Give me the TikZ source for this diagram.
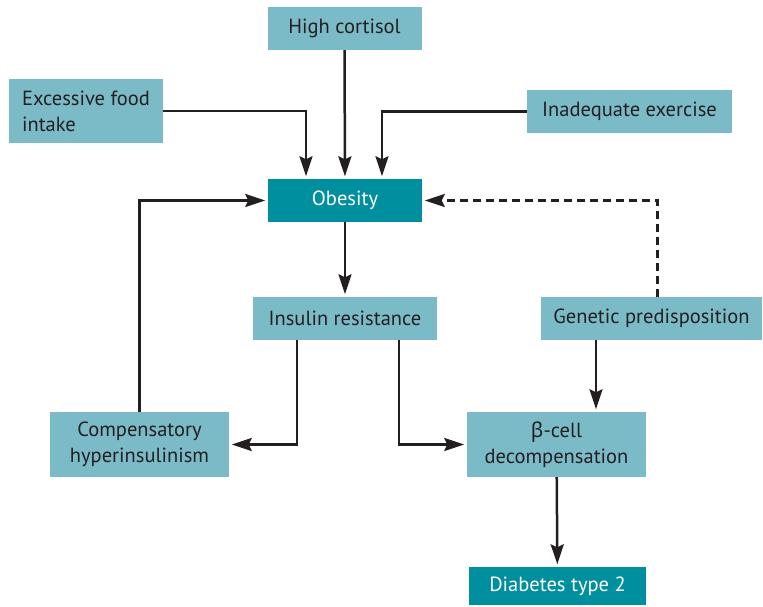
\documentclass[tikz,border=0pt]{standalone}
\usepackage{fontspec}
\setmainfont{PT Sans}
\newfontfamily\greekfont{Noto Sans}
\usetikzlibrary{arrows.meta}
\definecolor{boxlight}{HTML}{7ABBC7}
\definecolor{boxdark}{HTML}{008F9E}
\definecolor{ink}{HTML}{231F20}

\begin{document}
\begin{tikzpicture}[x=1pt,y=-1pt,
    box/.style={fill=boxlight, text=ink, inner sep=0pt, minimum height=43pt, font=\fontsize{20.5}{26}\selectfont, align=center},
    darkbox/.style={box, fill=boxdark, text=white},
    arr/.style={draw=ink, line width=2.5pt, -{Stealth[length=20pt,width=13pt,inset=3pt]}, shorten >=2.5pt}]
            \useasboundingbox (0,0) rectangle (763,606);
            % causes of obesity, then on to diabetes
            \node[box, minimum width=154pt] (cortisol) at (344.5,28.5) {High cortisol};
            \node[box, minimum width=154pt, minimum height=64pt, align=left] (food) at (86,111) {Excessive food\\intake};
            \node[box, minimum width=205pt, align=left] (exercise) at (629.5,111.5) {Inadequate exercise};
            \node[darkbox, minimum width=154pt] (obesity) at (345,200.5) {Obesity};
            \node[box, minimum width=184pt] (insulin) at (345,318.5) {Insulin resistance};
            \node[box, minimum width=221pt] (genetic) at (651.5,318.5) {Genetic predisposition};
            \node[box, minimum width=179pt, minimum height=65pt] (compens) at (139.5,444.5) {Compensatory\\hyperinsulinism};
            \node[box, minimum width=179pt, minimum height=65pt] (beta) at (556.5,444.5) {{\greekfont β}-cell\\decompensation};
            \node[darkbox, minimum width=177pt, minimum height=38pt] (diabetes) at (557.5,586) {Diabetes type 2};
            
            \draw[arr] (cortisol) -- (obesity);
            \draw[arr] (food.east) -| ([xshift=-39pt]obesity.north);
            \draw[arr] (exercise.west) -| ([xshift=37pt]obesity.north);
            \draw[arr] (obesity) -- (insulin);
            \draw[arr] ([xshift=-48pt]insulin.south) |- (compens.east);
            \draw[arr] ([xshift=54pt]insulin.south) |- (beta.west);
            \draw[arr] ([xshift=-55.5pt]genetic.south) -- ([xshift=-55.5pt]genetic.south |- beta.north);
            \draw[arr, dash pattern=on 8pt off 5pt] ([xshift=6pt]genetic.north) |- (obesity.east);
            \draw[arr] (compens.north) |- (obesity.west);
            \draw[arr] (beta) -- (diabetes);
        \end{tikzpicture}
\end{document}
